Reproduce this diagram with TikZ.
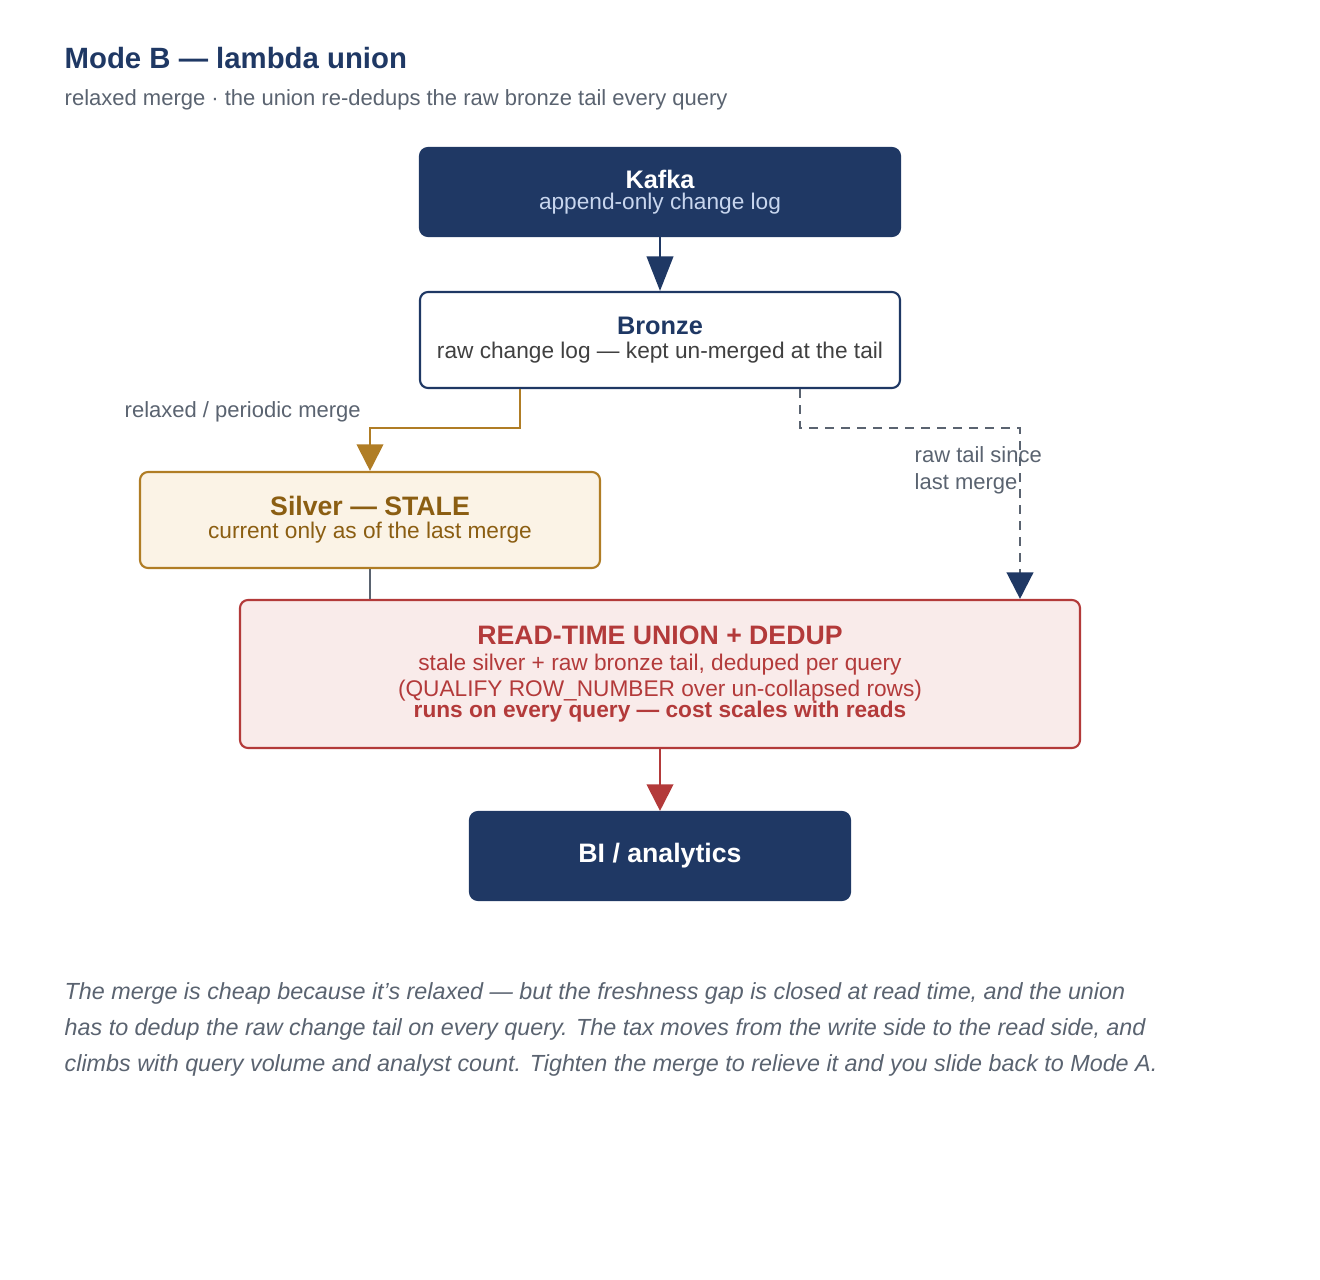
\documentclass[tikz,border=0pt]{standalone}
\usepackage{fontspec}
\setmainfont{Liberation Sans}
\usetikzlibrary{arrows.meta,calc}
\definecolor{navy}{RGB}{31,56,100}
\definecolor{paleblue}{RGB}{200,214,238}
\definecolor{gold}{RGB}{176,125,37}
\definecolor{golddark}{RGB}{139,94,18}
\definecolor{goldfill}{RGB}{251,243,230}
\definecolor{brick}{RGB}{179,58,58}
\definecolor{brickfill}{RGB}{249,235,234}
\definecolor{slate}{RGB}{90,99,112}
\tikzset{
  box/.style={rounded corners=6pt, line width=1.6pt, align=center, inner sep=0pt},
  dark/.style={box, fill=navy, draw=navy, text=white},
  link/.style={line width=1.6pt, -{Triangle[length=12pt,width=13pt]}},
  note/.style={text=slate, font=\fontsize{16.5}{20}\selectfont, anchor=west, align=left}
}
\begin{document}
\begin{tikzpicture}[x=0.75pt,y=-0.75pt]
        \useasboundingbox (0,0) rectangle (1320,1280);
        \node[anchor=west, text=navy, font=\bfseries\fontsize{22}{26}\selectfont] (title) at (60,58) {Mode B — lambda union};
        \node[note] (sub) at (60,100) {relaxed merge · the union re-dedups the raw bronze tail every query};

        \node[dark, minimum width=360pt, minimum height=66pt] (kafka) at (660,192)
          {{\bfseries\fontsize{19}{22}\selectfont Kafka}\\[2pt]{\color{paleblue}\fontsize{17}{20}\selectfont append-only change log}};
        \node[box, draw=navy, fill=white, minimum width=360pt, minimum height=72pt] (bronze) at (660,340)
          {{\bfseries\fontsize{19}{22}\selectfont\color{navy} Bronze}\\[4pt]{\color{black!75}\fontsize{17}{20}\selectfont raw change log — kept un-merged at the tail}};
        \node[box, draw=gold, fill=goldfill, text=golddark, minimum width=345pt, minimum height=72pt] (silver) at (370,520)
          {{\bfseries\fontsize{20}{24}\selectfont Silver — STALE}\\[4pt]{\fontsize{17}{20}\selectfont current only as of the last merge}};
        \node[box, draw=brick, fill=brickfill, text=brick, minimum width=630pt, minimum height=111pt] (union) at (660,674)
          {{\bfseries\fontsize{20}{24}\selectfont READ-TIME UNION + DEDUP}\\[6pt]
           {\fontsize{17}{20}\selectfont stale silver + raw bronze tail, deduped per query}\\[3pt]
           {\fontsize{17}{18}\selectfont (QUALIFY ROW\_NUMBER over un-collapsed rows)}\\[-1pt]
           {\bfseries\fontsize{17}{18}\selectfont runs on every query — cost scales with reads}};
        \node[dark, minimum width=285pt, minimum height=66pt, font=\bfseries\fontsize{20}{24}\selectfont] (bi) at (660,856) {BI / analytics};

        \coordinate (goldtop) at ($(bronze.south)+(-140,0)$);
        \coordinate (tailtop) at ($(bronze.south)+(140,0)$);

        \draw[link, draw=navy, -{Triangle[length=26pt,width=20pt,fill=navy]}] (kafka.south) -- (bronze.north);
        \draw[link, draw=gold, -{Triangle[length=20pt,width=20pt]}, gold] (goldtop) |- (370,428) -- (silver.north);
        \draw[line width=1.8pt, slate, dash pattern=on 7pt off 5pt] (tailtop) |- (1020,428) -- (1020,575);
        \draw[line width=1.8pt, navy, -{Triangle[length=20pt,width=20pt]}] (1020,574) -- (union.north -| 1020,0);
        \draw[line width=1.6pt, slate] (silver.south) -- (silver.south |- union.north);
        \draw[link, draw=brick, -{Triangle[length=20pt,width=20pt]}, brick] (union.south) -- (bi.north);

        \node[note] (relaxed) at (120,412) {relaxed / periodic merge};
        \node[note] (rawtail) at (910,470) {raw tail since\\last merge};

        \node[note, anchor=north west, font=\itshape\fontsize{17.5}{27}\selectfont] (foot) at (60,978)
          {The merge is cheap because it’s relaxed — but the freshness gap is closed at read time, and the union\\
           has to dedup the raw change tail on every query. The tax moves from the write side to the read side, and\\
           climbs with query volume and analyst count. Tighten the merge to relieve it and you slide back to Mode A.};
\end{tikzpicture}
\end{document}
